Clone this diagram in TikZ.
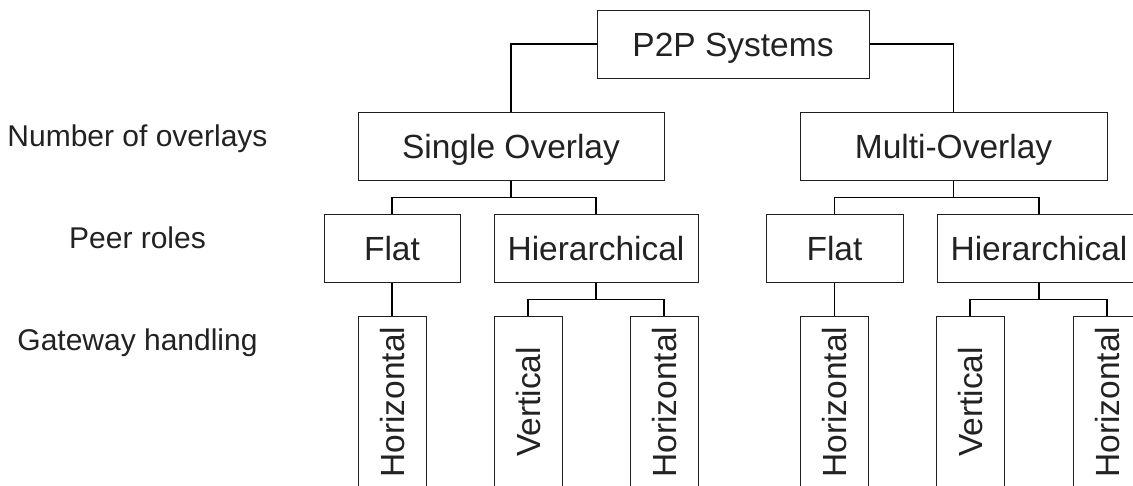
\documentclass[tikz,border=0pt]{standalone}
\usepackage{fontspec}
\setmainfont{Liberation Sans}
\definecolor{ink}{RGB}{34,34,34}
\tikzset{
  box/.style={draw=ink!90!black, line width=1pt, text=ink, inner sep=0pt,
    font=\fontsize{33.5pt}{40pt}\selectfont, text height=24pt, text depth=0pt,
    minimum height=68pt},
  gatebox/.style={box, rotate=90, minimum width=172pt, minimum height=68pt},
  level/.style={text=ink, font=\fontsize{30pt}{36pt}\selectfont, anchor=base, inner sep=0pt},
  link/.style={draw=black, line width=1.2pt}
}
\begin{document}
\begin{tikzpicture}[x=1pt, y=-1pt]
  \useasboundingbox (0,0) rectangle (1133,485);
  \clip (0,0) rectangle (1133,485);

  % level captions
  \node[level] (lv1) at (137.5,146) {Number of overlays};
  \node[level] (lv2) at (137.5,248) {Peer roles};
  \node[level] (lv3) at (137.5,350) {Gateway handling};

  % root
  \node[box, minimum width=272pt] (root) at (733,44) {P2P Systems};

  % overlay level
  \node[box, minimum width=306pt] (single) at (511,146) {Single Overlay};
  \node[box, minimum width=307pt] (multi) at (953.5,146) {Multi-Overlay};

  % peer-role level
  \node[box, minimum width=136pt] (sflat) at (392,248) {Flat};
  \node[box, minimum width=204pt] (shier) at (596,248) {Hierarchical};
  \node[box, minimum width=137pt] (mflat) at (834.5,248) {Flat};
  \node[box, minimum width=204pt] (mhier) at (1039,248) {Hierarchical};

  % gateway-handling level
  \node[gatebox] (sfh) at (392,402) {Horizontal};
  \node[gatebox] (shv) at (528,402) {Vertical};
  \node[gatebox] (shh) at (664,402) {Horizontal};
  \node[gatebox] (mfh) at (834.5,402) {Horizontal};
  \node[gatebox] (mhv) at (970,402) {Vertical};
  \node[gatebox] (mhh) at (1107,402) {Horizontal};

  % root to overlays
  \draw[link] (root.west) -| (single.north);
  \draw[link] (root.east) -| (multi.north);

  % overlays to peer roles
  \draw[link] (single.south) -- ++(0,17) coordinate (sj);
  \draw[link] (sj) -| (sflat.north);
  \draw[link] (sj) -| (shier.north);
  \draw[link] (multi.south) -- ++(0,17) coordinate (mj);
  \draw[link] (mj) -| (mflat.north);
  \draw[link] (mj) -| (mhier.north);

  % peer roles to gateway handling
  \draw[link] (sflat.south) -- (sfh.east);
  \draw[link] (shier.south) -- ++(0,17) coordinate (shj);
  \draw[link] (shj) -| (shv.east);
  \draw[link] (shj) -| (shh.east);
  \draw[link] (mflat.south) -- (mfh.east);
  \draw[link] (mhier.south) -- ++(0,17) coordinate (mhj);
  \draw[link] (mhj) -| (mhv.east);
  \draw[link] (mhj) -| (mhh.east);
\end{tikzpicture}
\end{document}
